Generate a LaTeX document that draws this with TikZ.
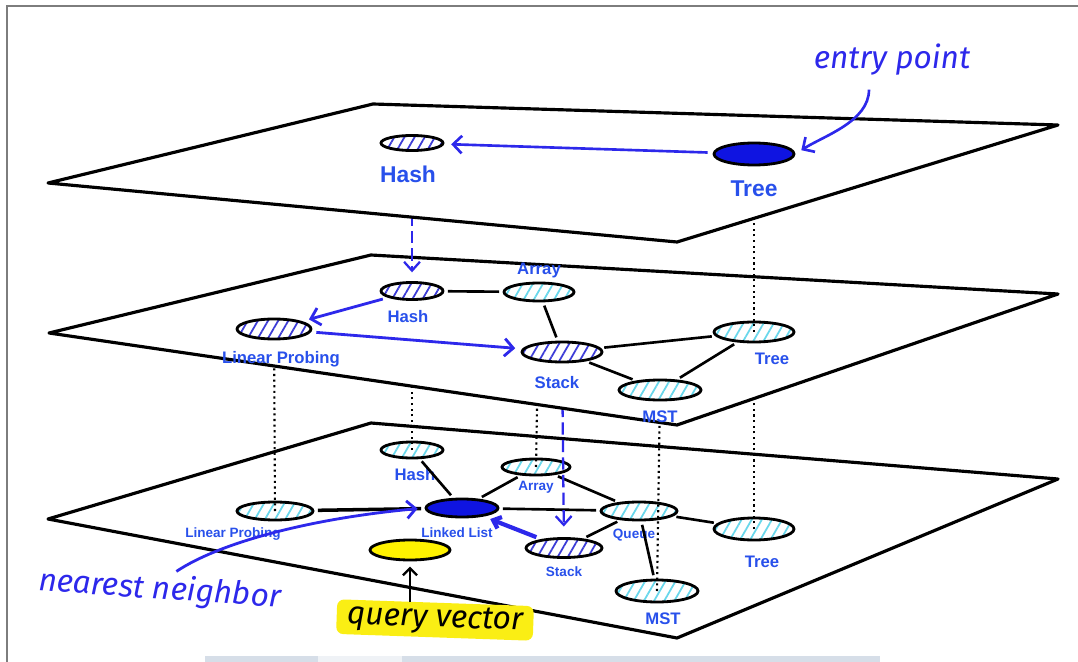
\documentclass[tikz,border=0pt]{standalone}
\usepackage{fontspec}
\setmainfont{Liberation Sans}
\newfontfamily\handfont{Fira Sans}
\usetikzlibrary{shapes.geometric,patterns.meta,arrows.meta,positioning}

\definecolor{lblue}{RGB}{40,80,235}
\definecolor{inkblue}{RGB}{45,40,235}
\definecolor{solidblue}{RGB}{15,20,225}
\definecolor{hatchblue}{RGB}{60,60,215}
\definecolor{hatchcyan}{RGB}{105,215,235}
\definecolor{marker}{RGB}{250,238,20}
\definecolor{framegray}{RGB}{125,125,125}
\definecolor{barblue}{RGB}{214,222,232}

\tikzset{
  sheet/.style={draw=black, fill=white, line width=1.8pt, line join=round},
  vec/.style={ellipse, draw=black, line width=1.6pt, inner sep=0pt},
  vcyan/.style={vec, pattern={Lines[angle=60,distance=5pt,line width=1pt]}, pattern color=hatchcyan},
  vhatch/.style={vec, pattern={Lines[angle=60,distance=5pt,line width=1pt]}, pattern color=hatchblue},
  vfull/.style={vec, fill=solidblue},
  sz/.style 2 args={minimum width=#1, minimum height=#2},
  toplbl/.style={text=lblue, inner sep=0pt, font=\bfseries\fontsize{13}{15}\selectfont},
  midlbl/.style={text=lblue, inner sep=0pt, font=\bfseries\fontsize{9.5}{11}\selectfont},
  smalllbl/.style={text=lblue, inner sep=0pt, font=\bfseries\fontsize{7.7}{9}\selectfont},
  edge/.style={line width=1.5pt, shorten <=2pt, shorten >=2pt},
  hop/.style={draw=inkblue, line width=1.6pt, shorten <=3pt, shorten >=4pt,
    -{Straight Barb[length=5pt,width=10pt]}},
  drop/.style={draw=inkblue, line width=1.3pt, dash pattern=on 7pt off 3pt,
    -{Straight Barb[length=5pt,width=9pt]}},
  same/.style={line width=1.2pt, dash pattern=on 1.2pt off 2pt},
  hand/.style={font=\handfont\itshape\fontsize{18}{20}\selectfont, inner sep=2pt},
}

\begin{document}
\begin{tikzpicture}[x=0.02cm, y=-0.02cm]
  \useasboundingbox (0,0) rectangle (1078,662);
  \draw[framegray, line width=1.2pt] (7,662) -- (7,6) -- (1078,6);
  \fill[barblue] (205,656) rectangle (318,662);
  \fill[barblue!40] (318,656) rectangle (402,662);
  \fill[barblue] (402,656) rectangle (880,662);

  % spots of the upper vectors
  \coordinate (p-mlp) at (274,329);
  \coordinate (p-mhash) at (412,291);
  \coordinate (p-marray) at (539,292);
  \coordinate (p-mstack) at (562,352);
  \coordinate (p-mtree) at (754,332);
  \coordinate (p-mmst) at (660,390);
  \coordinate (p-thash) at (412,143);
  \coordinate (p-ttree) at (754,154);

  % layer 0
  \draw[sheet] (48,519) -- (371,423) -- (1058,479) -- (677,638) -- cycle;

  \node[vcyan, sz={1.24cm}{.32cm}, label={[midlbl,label distance=5pt,xshift=.06cm]below:Hash}] (bhash) at (412,450) {};
  \node[vcyan, sz={1.36cm}{.32cm}, label={[smalllbl,label distance=2.5pt]below:Array}] (barray) at (536,467) {};
  \node[vcyan, sz={1.52cm}{.36cm}, label={[smalllbl,label distance=3.5pt,xshift=-.84cm]below:Linear Probing}] (blp) at (275,511) {};
  \node[vfull, sz={1.44cm}{.36cm}, label={[smalllbl,label distance=5pt,xshift=-.1cm]below:Linked List}] (blist) at (462,508) {};
  \node[vcyan, sz={1.52cm}{.36cm}, label={[smalllbl,label distance=4pt,xshift=-.1cm]below:Queue}] (bqueue) at (639,511) {};
  \node[vhatch, sz={1.52cm}{.38cm}, label={[smalllbl,label distance=4.5pt]below:Stack}] (bstack) at (564,548) {};
  \node[vcyan, sz={1.6cm}{.44cm}, label={[midlbl,label distance=8pt,xshift=.16cm]below:Tree}] (btree) at (754,529) {};
  \node[vcyan, sz={1.64cm}{.44cm}, label={[midlbl,label distance=5pt,xshift=.12cm]below:MST}] (bmst) at (657,591) {};
  \node[vec, fill=yellow, sz={1.6cm}{.4cm}] (query) at (410,550) {};

  \draw[edge] (bhash) -- (blist);
  \draw[edge] (barray) -- (blist);
  \draw[edge, line width=2pt] (blp) -- (blist);
  \draw[edge] (blist) -- (bqueue);
  \draw[edge] (barray) -- (bqueue);
  \draw[edge] (bqueue) -- (btree);
  \draw[edge] (bqueue) -- (bstack);
  \draw[edge] (bqueue) -- (bmst);
  \draw[hop, line width=2.4pt, -{Straight Barb[length=4pt,width=7pt]}] (bstack) -- (blist);

  \draw[same] (blp.center) -- (p-mlp);
  \draw[same] (bhash.center) -- (p-mhash);
  \draw[same] (barray.center) -- (p-marray);
  \draw[same] (bmst.center) -- (p-mmst);
  \draw[same] (btree.center) -- (p-mtree);
  \draw[drop, shorten >=6pt] (p-mstack) -- (bstack);

  % layer 1
  \draw[sheet] (49,333) -- (371,255) -- (1058,294) -- (677,425) -- cycle;

  \node[vhatch, sz={1.24cm}{.34cm}, label={[midlbl,label distance=5pt,xshift=-.08cm]below:Hash}] (mhash) at (p-mhash) {};
  \node[vcyan, sz={1.4cm}{.36cm}, label={[midlbl,label distance=2pt]above:Array}] (marray) at (p-marray) {};
  \node[vhatch, sz={1.48cm}{.4cm}, label={[midlbl,label distance=6pt,xshift=.14cm]below:Linear Probing}] (mlp) at (p-mlp) {};
  \node[vhatch, sz={1.6cm}{.4cm}, label={[midlbl,label distance=7pt,xshift=-.1cm]below:Stack}] (mstack) at (p-mstack) {};
  \node[vcyan, sz={1.6cm}{.4cm}, label={[midlbl,label distance=5pt,xshift=.36cm]below:Tree}] (mtree) at (p-mtree) {};
  \node[vcyan, sz={1.64cm}{.4cm}, label={[midlbl,label distance=5pt]below:MST}] (mmst) at (p-mmst) {};

  \draw[edge] (mhash) -- (marray);
  \draw[edge] (marray) -- (mstack);
  \draw[edge] (mstack) -- (mtree);
  \draw[edge] (mstack) -- (mmst);
  \draw[edge] (mtree) -- (mmst);
  \draw[hop] (mhash) -- (mlp);
  \draw[hop] (mlp) -- (mstack);

  \draw[same] (mtree.center) -- (p-ttree);
  \draw[drop, shorten >=5pt] (p-thash) -- (mhash);

  % layer 2
  \draw[sheet] (48,183) -- (373,104) -- (1058,125) -- (677,242) -- cycle;

  \node[vhatch, sz={1.24cm}{.3cm}, label={[toplbl,label distance=8pt,xshift=-.08cm]below:Hash}] (thash) at (p-thash) {};
  \node[vfull, sz={1.6cm}{.44cm}, label={[toplbl,label distance=8pt]below:Tree}] (ttree) at (p-ttree) {};
  \draw[hop, line width=1.5pt] (ttree) -- (thash);

  % notes
  \node[hand, text=inkblue] (entry) at (892,60) {entry point};
  \draw[hop, line width=1.5pt, shorten <=0pt] (entry.south) ++(-23,10)
    .. controls +(0,32) and +(28,-18) .. (ttree.east);
  \node[hand, text=inkblue, rotate=-4] (nearest) at (160,590) {nearest neighbor};
  \draw[hop, line width=1.6pt, shorten <=0pt] (nearest.north) ++(15,1)
    .. controls +(45,-30) and +(-110,10) .. (blist.west);
  \node[hand, fill=marker, rounded corners=4pt, rotate=-2, inner xsep=6pt] (qtext) at (435,620) {query vector};
  \draw[line width=1.3pt, shorten >=3pt, -{Straight Barb[length=4pt,width=8pt]}]
    (qtext.north -| query.south) -- (query.south);
\end{tikzpicture}
\end{document}
